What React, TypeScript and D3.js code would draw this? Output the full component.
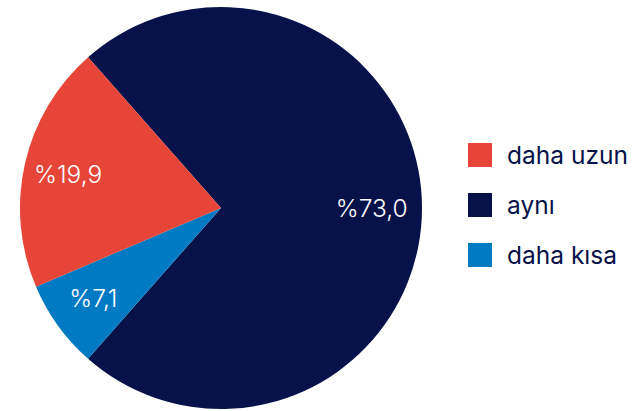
import React from "react";
import * as d3 from "d3";

const categories = ["aynı", "daha kısa", "daha uzun"];
const values = [73.0, 7.1, 19.9];
const labels = ["%73,0", "%7,1", "%19,9"];
const colors = ["#061249", "#007AC3", "#E64537"];
const legendOrder = ["daha uzun", "aynı", "daha kısa"];

const W = 634, H = 411;
const cx = 221, cy = 208, R = 201;
const startDeg = -41.4;

export default function App() {
  const pie = d3
    .pie<number>()
    .sort(null)
    .value((d) => d)
    .startAngle((startDeg * Math.PI) / 180)
    .endAngle(((startDeg + 360) * Math.PI) / 180);
  const arcs = pie(values);
  const arc = d3.arc<d3.PieArcDatum<number>>().innerRadius(0).outerRadius(R);
  const labelArc = d3.arc<d3.PieArcDatum<number>>().innerRadius(R * 0.765).outerRadius(R * 0.765);
  const font = "Inter, 'Noto Sans', sans-serif";
  return (
    <svg width={W} height={H} style={{ position: "absolute", left: 0, top: 0 }}>
      <g transform={`translate(${cx},${cy})`}>
        {arcs.map((a, i) => (
          <path key={i} d={arc(a) || ""} fill={colors[i]} />
        ))}
        {arcs.map((a, i) => {
          const [x, y] = labelArc.centroid(a);
          return (
            <text key={"l" + i} x={x - 3} y={y} textAnchor="middle" dominantBaseline="central"
              fill="#fff" fontFamily={font} fontSize={24.5} fontWeight={300}>
              {labels[i]}
            </text>
          );
        })}
      </g>
      {legendOrder.map((c, j) => {
        const idx = categories.indexOf(c);
        const y = 143 + j * 50;
        return (
          <g key={c}>
            <rect x={468} y={y} width={24} height={24} fill={colors[idx]} />
            <text x={507} y={y + 12} dominantBaseline="central" fill="#061249"
              fontFamily={font} fontSize={24.5} fontWeight={400}>
              {c}
            </text>
          </g>
        );
      })}
    </svg>
  );
}
